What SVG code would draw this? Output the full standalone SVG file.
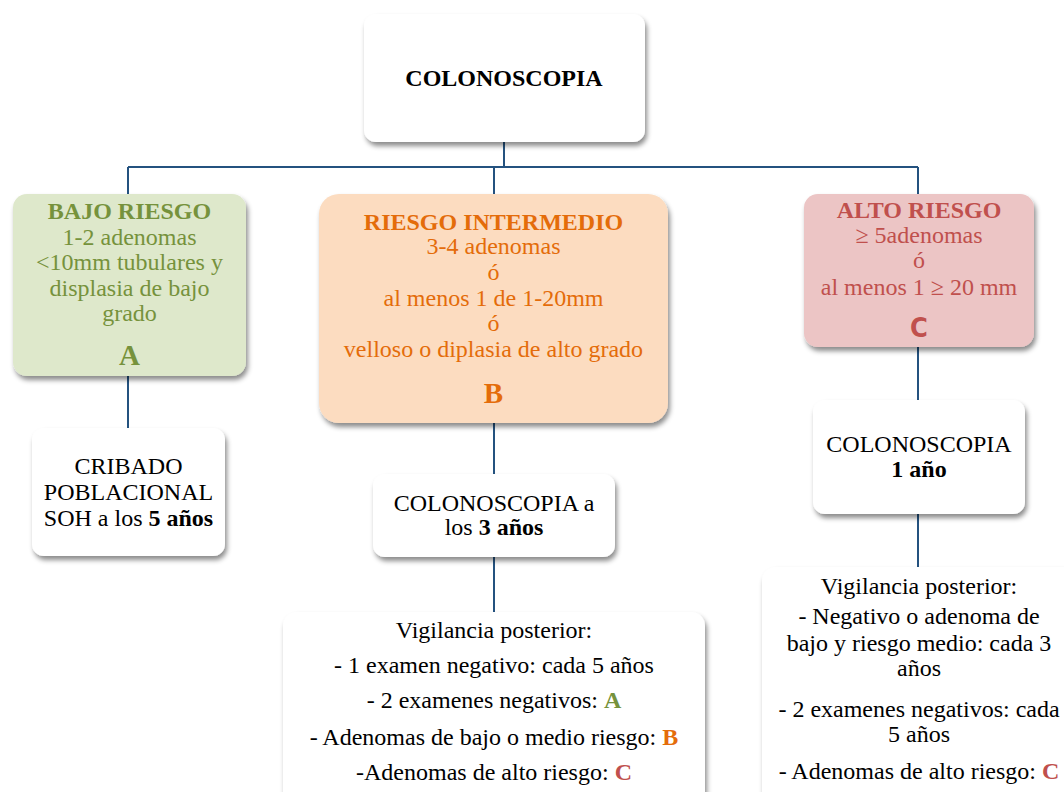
<svg xmlns="http://www.w3.org/2000/svg" width="1064" height="792" viewBox="0 0 1064 792">
<defs>
<filter id="sh" x="-10%" y="-10%" width="125%" height="130%">
<feDropShadow dx="2" dy="4" stdDeviation="2.5" flood-color="#000" flood-opacity="0.45"/>
</filter>
<style>
.t{font-family:"Liberation Serif","Times New Roman",serif;font-size:24px;text-anchor:middle;fill:#000}
.b{font-weight:bold}
.white{fill:#fff}
.g{fill:#76923c}
.o{fill:#e46c0a}
.r{fill:#c0504d}
.conn{stroke:#24527f;stroke-width:2;fill:none}
.cs{font-family:"DejaVu Sans Condensed","Liberation Sans",sans-serif;font-weight:bold}
</style>
</defs>
<rect width="1064" height="792" fill="#fff"/>
<g id="connectors">
<path class="conn" d="M504 142V167M128 167H918M128 167V194M494 167V194M918 167V194"/>
<path class="conn" d="M128 376V428"/>
<path class="conn" d="M494 423V474M494 557V612"/>
<path class="conn" d="M918 347V400M918 514V567"/>
</g>
<g id="colonoscopia">
<rect class="white" x="364" y="14" width="281" height="128" rx="12" filter="url(#sh)"/>
<text class="t b" x="504" y="86">COLONOSCOPIA</text>
</g>
<g id="bajo-riesgo">
<rect x="13" y="194" width="233" height="182" rx="14" fill="#dee8cb" filter="url(#sh)"/>
<text class="t g" x="129.5" y="219"><tspan class="b">BAJO RIESGO</tspan><tspan x="129.5" y="244.5">1-2 adenomas</tspan><tspan x="129.5" y="270">&lt;10mm tubulares y</tspan><tspan x="129.5" y="295.5">displasia de bajo</tspan><tspan x="129.5" y="321">grado</tspan></text>
<text class="t b g" x="129.5" y="365" style="font-size:29px">A</text>
</g>
<g id="riesgo-intermedio">
<rect x="319" y="194" width="349" height="229" rx="20" fill="#fcdcc0" filter="url(#sh)"/>
<text class="t o" x="493.5" y="230"><tspan class="b">RIESGO INTERMEDIO</tspan><tspan x="493.5" y="254">3-4 adenomas</tspan><tspan x="493.5" y="280">ó</tspan><tspan x="493.5" y="306">al menos 1 de 1-20mm</tspan><tspan x="493.5" y="331">ó</tspan><tspan x="493.5" y="357">velloso o diplasia de alto grado</tspan></text>
<text class="t b o" x="493.5" y="403" style="font-size:29px">B</text>
</g>
<g id="alto-riesgo">
<rect x="804" y="194" width="230" height="153" rx="14" fill="#ecc5c5" filter="url(#sh)"/>
<text class="t r" x="919" y="218"><tspan class="b">ALTO RIESGO</tspan><tspan x="919" y="243">≥ 5adenomas</tspan><tspan x="919" y="268">ó</tspan><tspan x="919" y="295">al menos 1 ≥ 20 mm</tspan></text>
<text class="t cs r" x="919" y="337" style="font-size:27px">C</text>
</g>
<g id="cribado">
<rect class="white" x="32" y="428" width="193" height="128" rx="12" filter="url(#sh)"/>
<text class="t" x="128.5" y="474">CRIBADO<tspan x="128.5" y="500">POBLACIONAL</tspan><tspan x="128.5" y="526">SOH a los <tspan class="b">5 años</tspan></tspan></text>
</g>
<g id="colonoscopia-3">
<rect class="white" x="373" y="474" width="242" height="83" rx="12" filter="url(#sh)"/>
<text class="t" x="494" y="511">COLONOSCOPIA a<tspan x="494" y="535">los <tspan class="b">3 años</tspan></tspan></text>
</g>
<g id="colonoscopia-1">
<rect class="white" x="813" y="400" width="212" height="114" rx="12" filter="url(#sh)"/>
<text class="t" x="919" y="452">COLONOSCOPIA<tspan class="b" x="919" y="477">1 año</tspan></text>
</g>
<g id="vigilancia-b">
<rect class="white" x="283" y="612" width="422" height="200" rx="14" filter="url(#sh)"/>
<text class="t" x="494" y="638">Vigilancia posterior:</text>
<text class="t" x="494" y="673">- 1 examen negativo: cada 5 años</text>
<text class="t" x="494" y="708">- 2 examenes negativos: <tspan class="b g">A</tspan></text>
<text class="t" x="494" y="745">- Adenomas de bajo o medio riesgo: <tspan class="b o">B</tspan></text>
<text class="t" x="494" y="780">-Adenomas de alto riesgo: <tspan class="b r">C</tspan></text>
</g>
<g id="vigilancia-c">
<rect class="white" x="762" y="567" width="316" height="240" rx="14" filter="url(#sh)"/>
<text class="t" x="919" y="594">Vigilancia posterior:</text>
<text class="t" x="919" y="624">- Negativo o adenoma de<tspan x="919" y="651">bajo y riesgo medio: cada 3</tspan><tspan x="919" y="676">años</tspan></text>
<text class="t" x="919" y="717">- 2 examenes negativos: cada<tspan x="919" y="742">5 años</tspan></text>
<text class="t" x="919" y="779">- Adenomas de alto riesgo: <tspan class="b r">C</tspan></text>
</g>
</svg>
